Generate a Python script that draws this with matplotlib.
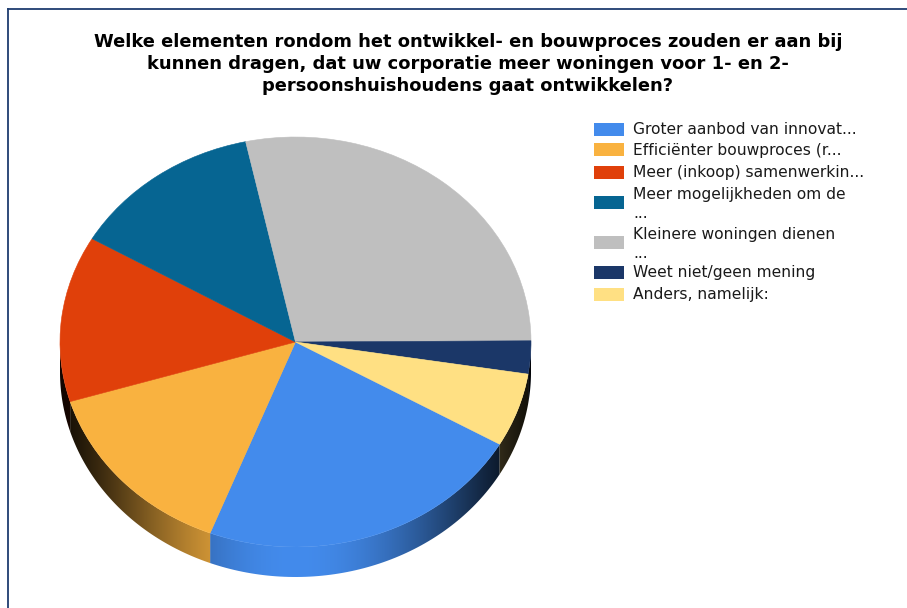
import numpy as np
import matplotlib
matplotlib.use("Agg")
import matplotlib.pyplot as plt
from matplotlib.patches import Rectangle, Polygon
from matplotlib.lines import Line2D

title = ("Welke elementen rondom het ontwikkel- en bouwproces zouden er aan bij\n"
         "kunnen dragen, dat uw corporatie meer woningen voor 1- en 2-\n"
         "persoonshuishoudens gaat ontwikkelen?")

labels = ["Groter aanbod van innovat...",
          "Efficiënter bouwproces (r...",
          "Meer (inkoop) samenwerkin...",
          "Meer mogelijkheden om de\n...",
          "Kleinere woningen dienen\n...",
          "Weet niet/geen mening",
          "Anders, namelijk:"]
shares = [22.6, 14.4, 13.1, 13.2, 28.3, 2.6, 5.8]
colors = ["#438bec", "#f9b240", "#e0400a", "#066592",
          "#bfbfbf", "#1b3768", "#ffe083"]

W, H = 907, 608
fig = plt.figure(figsize=(W / 100, H / 100), dpi=100)

# outer frame (top and left edges only, the rest runs off the canvas)
fig.add_artist(Line2D([8 / W, 8 / W], [0, 1 - 9 / H], color="#1f3d70", lw=1.3))
fig.add_artist(Line2D([8 / W, 1], [1 - 9 / H, 1 - 9 / H], color="#1f3d70", lw=1.3))

fig.text(468 / W, 1 - 64 / H, title, ha="center", va="center",
         fontsize=12.9, fontweight="bold", linespacing=1.3, color="black")

# pie geometry in pixels
left, right = 60, 531
top, face_bottom, depth_px = 137, 547, 30
ry = (face_bottom - top) / 2
depth = depth_px / ry
ax = fig.add_axes([left / W, 1 - (face_bottom + depth_px) / H,
                   (right - left) / W, (face_bottom + depth_px - top) / H])

start = -29.9
wedges, _ = ax.pie(shares, colors=colors, startangle=start, counterclock=False,
                   radius=1, center=(0, 0))
for w in wedges:
    w.set_edgecolor(w.get_facecolor())
    w.set_linewidth(0.4)
    w.set_zorder(3)

# side wall: a horizontal gradient per slice, clipped to the rim band
xs = np.linspace(-1, 1, 600)
shade = 0.08 + 0.92 * (1 - xs ** 2) ** 1.5
bounds = start - np.concatenate([[0], np.cumsum(shares)]) / sum(shares) * 360
for i in range(len(shares)):
    a0, a1 = bounds[i + 1], bounds[i]      # clockwise, so a0 < a1
    for off in (0, -360, 360):
        lo, hi = max(a0 + off, -180), min(a1 + off, 0)
        if hi <= lo:
            continue
        ts = np.radians(np.linspace(lo, hi, 80))
        top_arc = np.column_stack([np.cos(ts), np.sin(ts)])
        bot_arc = np.column_stack([np.cos(ts[::-1]), np.sin(ts[::-1]) - depth])
        band = Polygon(np.vstack([top_arc, bot_arc]), closed=True,
                       facecolor="none", edgecolor="none")
        ax.add_patch(band)
        base = np.array(matplotlib.colors.to_rgb(colors[i]))
        img = np.clip(shade[None, :, None] * base[None, None, :], 0, 1)
        im = ax.imshow(img, extent=(-1, 1, -1 - depth, 0.02), aspect="auto",
                       interpolation="bilinear", zorder=2)
        im.set_clip_path(band)

ax.set_aspect("auto")
ax.set_xlim(-1, 1)
ax.set_ylim(-1 - depth, 1)
ax.axis("off")

# legend: swatch top and centre of the first text line, in pixels
rows = [(123, 130), (143, 150), (166, 172), (196, 195), (236, 234), (266, 273), (288, 294)]
for (sw_y, tx_y), lab, c in zip(rows, labels, colors):
    fig.add_artist(Rectangle((594 / W, 1 - (sw_y + 13) / H), 30 / W, 13 / H,
                             facecolor=c, edgecolor="none", transform=fig.transFigure))
    for k, line in enumerate(lab.split("\n")):
        fig.text(633 / W, 1 - (tx_y + 19 * k) / H, line, ha="left", va="center",
                 fontsize=11.2, color="#1a1a1a")

fig.savefig("out.png", dpi=100)
